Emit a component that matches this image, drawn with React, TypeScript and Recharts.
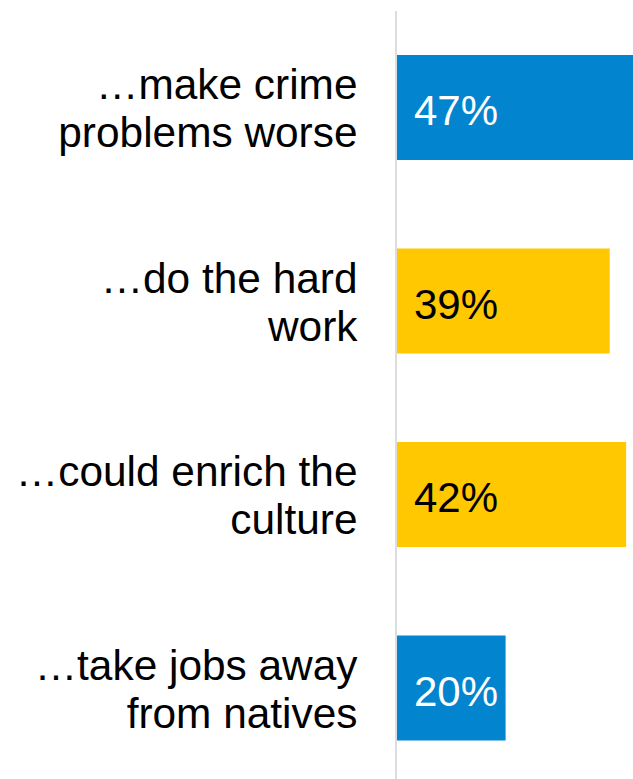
import { Bar, BarChart, Cell, LabelList, XAxis, YAxis } from "recharts";

const statements = [
  ["…make crime", "problems worse"],
  ["…do the hard", "work"],
  ["…could enrich the", "culture"],
  ["…take jobs away", "from natives"],
];
const shares = [47, 39, 42, 20];
const tones = ["negative", "positive", "positive", "negative"];

const chartData = statements.map((lines, i) => ({
  key: String(i),
  share: shares[i],
  tone: tones[i],
}));

const font = '"Liberation Sans", Arial, sans-serif';
const fills: Record<string, string> = { negative: "#0384CE", positive: "#FFC800" };
const inks: Record<string, string> = { negative: "#ffffff", positive: "#000000" };

const StatementTick = (props: any) => {
  const { x, y, payload } = props;
  const lines = statements[Number(payload.value)];
  return (
    <text x={x} y={y} textAnchor="end" fontFamily={font} fontSize={42.4} fill="#000">
      <tspan x={x} y={y - 8.5}>{lines[0]}</tspan>
      <tspan x={x} y={y + 39.5}>{lines[1]}</tspan>
    </text>
  );
};

const ShareLabel = (props: any) => {
  const { x, y, height, value, index } = props;
  return (
    <text x={x + 18} y={y + height / 2 + 17.5} fontFamily={font} fontSize={42} fill={inks[tones[index]]}>
      {`${value}%`}
    </text>
  );
};

export default function App() {
  return (
    <div style={{ position: "absolute", left: 0, top: 0, width: 633, height: 779, overflow: "hidden", background: "#fff" }}>
      <BarChart
        width={670}
        height={785}
        data={chartData}
        layout="vertical"
        margin={{ top: 11, right: 0, bottom: 0, left: 0 }}
      >
        <XAxis type="number" domain={[0, 50]} hide />
        <YAxis
          type="category"
          dataKey="key"
          width={396}
          tickSize={0}
          tickMargin={38.5}
          tickLine={false}
          axisLine={{ stroke: "#dddddd", strokeWidth: 2 }}
          tick={<StatementTick />}
        />
        <Bar dataKey="share" barSize={105} isAnimationActive={false}>
          {chartData.map((d) => (
            <Cell key={d.key} fill={fills[d.tone]} />
          ))}
          <LabelList dataKey="share" content={<ShareLabel />} />
        </Bar>
      </BarChart>
    </div>
  );
}
